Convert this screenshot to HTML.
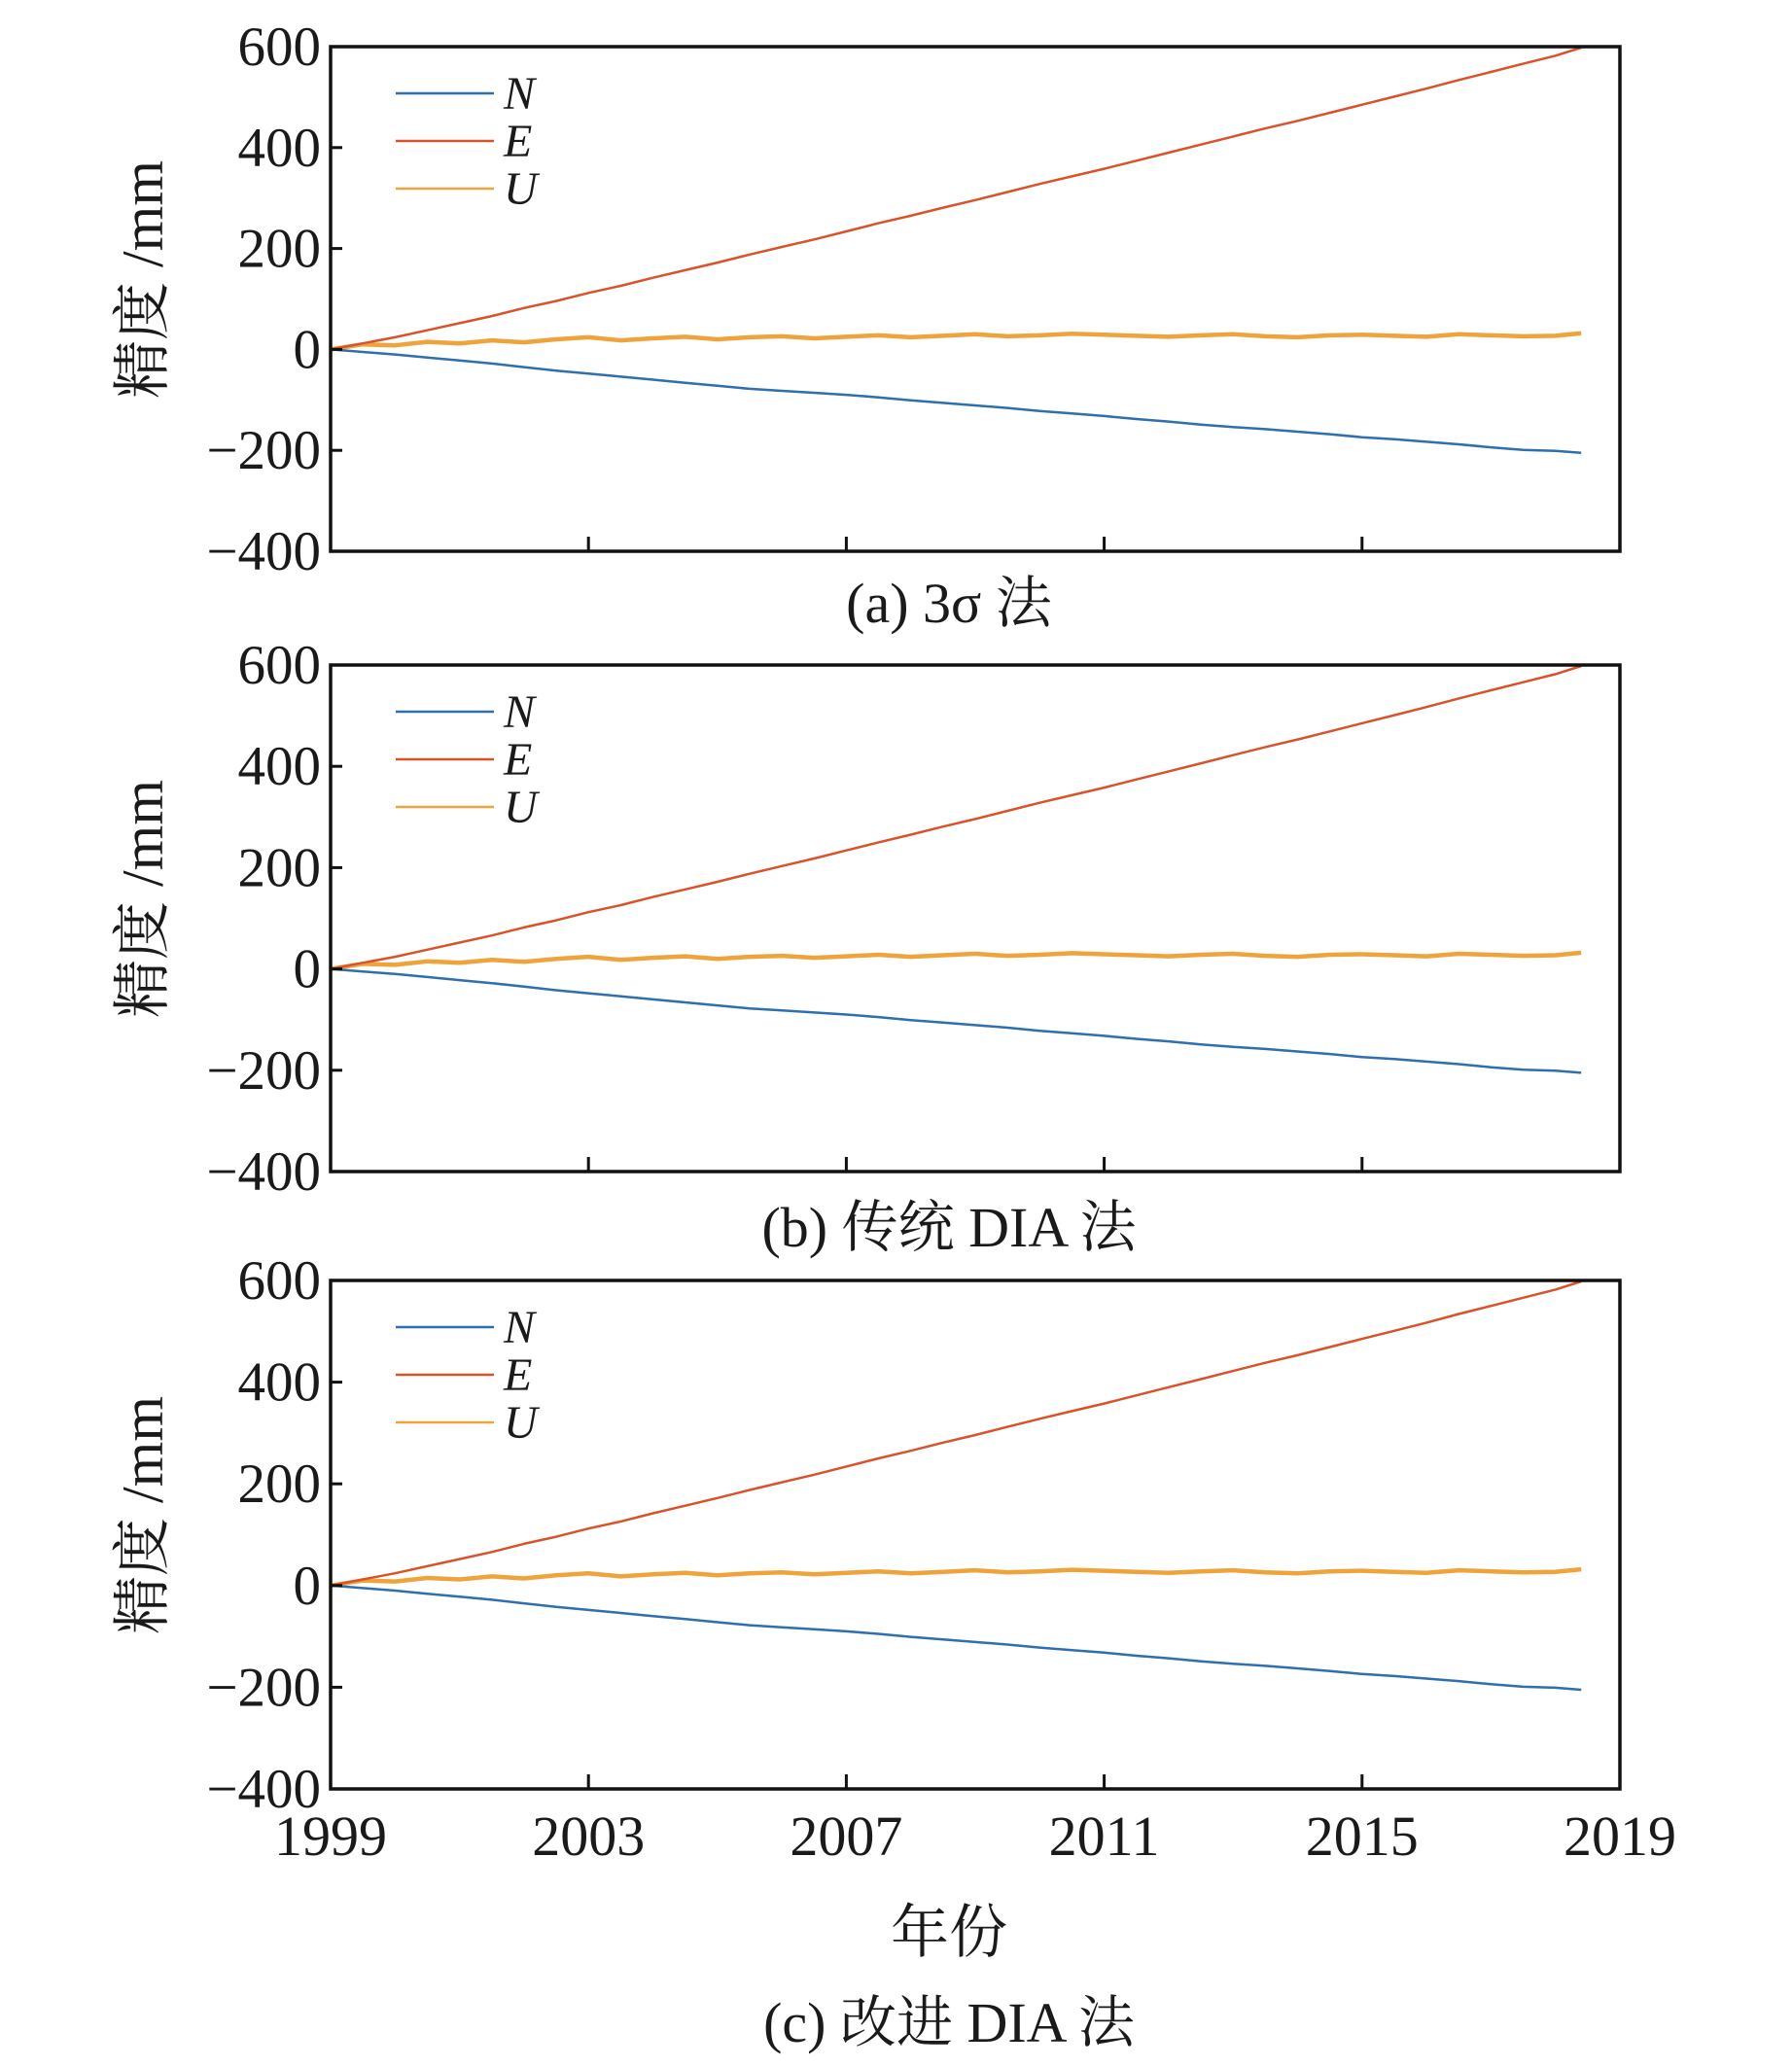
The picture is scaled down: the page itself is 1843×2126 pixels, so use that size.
<!DOCTYPE html>
<html><head><meta charset="utf-8"><style>
body{margin:0;background:#fff}
svg{display:block}
text{font-family:"Liberation Serif","Noto Serif CJK SC",serif;fill:#1a1a1a}
</style></head><body>
<svg id="chart" width="1843" height="2126" xmlns="http://www.w3.org/2000/svg"></svg>
<script>
const years = [1999,1999.5,2000,2000.5,2001,2001.5,2002,2002.5,2003,2003.5,2004,2004.5,2005,2005.5,2006,2006.5,2007,2007.5,2008,2008.5,2009,2009.5,2010,2010.5,2011,2011.5,2012,2012.5,2013,2013.5,2014,2014.5,2015,2015.5,2016,2016.5,2017,2017.5,2018,2018.4];
const seriesE = [0,12,24,38,52,66,82,96,112,126,142,157,172,188,203,218,234,250,265,281,296,312,328,343,358,374,390,406,422,438,453,469,485,501,517,534,550,566,582,598];
const seriesN = [0,-5,-10,-16,-22,-28,-35,-42,-48,-54,-60,-66,-72,-78,-82,-86,-90,-95,-101,-106,-111,-116,-122,-127,-132,-138,-143,-149,-154,-158,-163,-168,-174,-178,-183,-188,-194,-199,-201,-205];
const seriesU = [0,10,8,15,12,18,14,20,24,18,22,25,20,24,26,22,25,28,24,27,30,26,28,31,29,27,25,28,30,26,24,28,29,27,25,30,28,26,27,32];
const yTicks = [600,400,200,0,-200,-400];
const yTickLabels = ["600","400","200","0","\u2212200","\u2212400"];
const xTicks = [1999,2003,2007,2011,2015,2019];
const panelCaptions = ["(a) 3σ 法","(b) 传统 DIA 法","(c) 改进 DIA 法"];
const legendNames = ["N","E","U"];

const NS="http://www.w3.org/2000/svg";
const svg=document.getElementById('chart');
const L=340,R=1666;
const panels=[{top:48,bot:567,cap:620},{top:684,bot:1205,cap:1262},{top:1317,bot:1840,cap:2080}];
const colors={N:"#2e6fae",E:"#d9532a",U:"#eea43a"};
function el(tag,attrs,parent){const e=document.createElementNS(NS,tag);for(const k in attrs)e.setAttribute(k,attrs[k]);(parent||svg).appendChild(e);return e;}
const xs=v=>L+(v-1999)/20*(R-L);
panels.forEach((p,pi)=>{
  const ys=v=>p.top+(600-v)/1000*(p.bot-p.top);
  const g=el('g',{});
  
  
  const keys={N:seriesN,E:seriesE,U:seriesU};
  ['U','N','E'].forEach(k=>{
    const pts=years.map((y,i)=>xs(y).toFixed(1)+','+ys(keys[k][i]).toFixed(1)).join(' ');
    const pl=el('polyline',{points:pts,fill:'none',stroke:colors[k],'stroke-width':k==='U'?4.5:2.5,'stroke-linejoin':'round'},g);
    
    
  });
  const fr=el('rect',{x:L,y:p.top,width:R-L,height:p.bot-p.top,fill:'none',stroke:'#111','stroke-width':3.5},g);
  
  
  yTicks.forEach((v,i)=>{
    el('line',{x1:L,x2:L+12,y1:ys(v),y2:ys(v),stroke:'#111','stroke-width':3},g);
    const t=el('text',{x:L-10,y:ys(v)+19,'text-anchor':'end','font-size':57},g);
    t.textContent=yTickLabels[i];
    
    
  });
  xTicks.slice(1,-1).forEach(v=>{
    el('line',{x1:xs(v),x2:xs(v),y1:p.bot,y2:p.bot-15,stroke:'#111','stroke-width':3},g);
  });
  const yl=el('text',{x:0,y:0,'font-size':60,'text-anchor':'middle',transform:`translate(167,${(p.top+p.bot)/2-20}) rotate(-90)`},g);
  yl.textContent='精度 /mm';
  
  
  legendNames.forEach((n,i)=>{
    const yy=p.top+48+i*49;
    const ln=el('line',{x1:407,x2:508,y1:yy,y2:yy,stroke:colors[n],'stroke-width':2.5},g);
    
    
    const t=el('text',{x:518,y:yy+16,'font-size':48,'font-style':'italic'},g);
    t.textContent=n;
    
    
  });
  const c=el('text',{x:976,y:p.cap+20,'text-anchor':'middle','font-size':58},g);
  c.textContent=panelCaptions[pi];
  
  
});
xTicks.forEach(v=>{
  const t=el('text',{x:xs(v),y:1908,'text-anchor':'middle','font-size':58});
  t.textContent=String(v);
  
  
});
const xt=el('text',{x:976,y:2008,'text-anchor':'middle','font-size':60});
xt.textContent='年份';


</script>
</body></html>
